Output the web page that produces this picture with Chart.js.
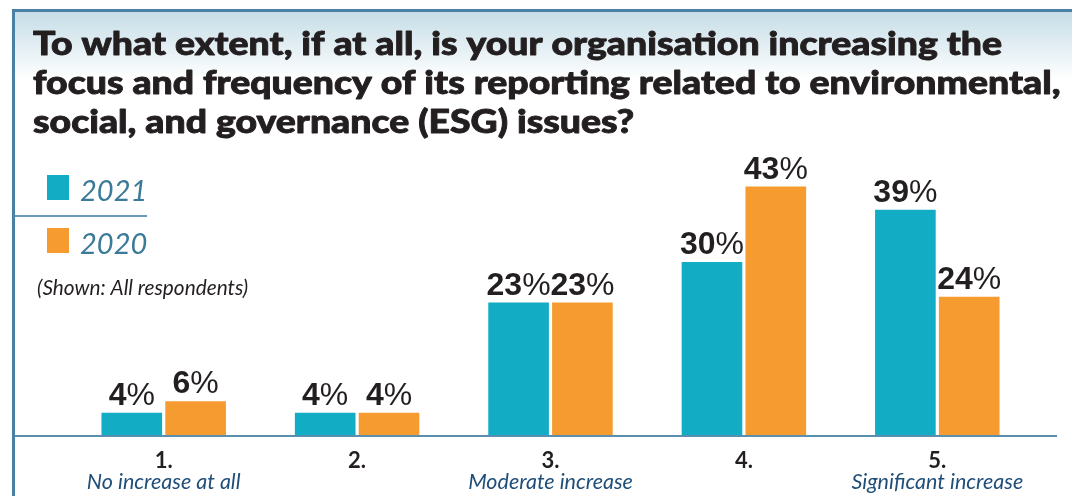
<!DOCTYPE html>
<html>
<head>
<meta charset="utf-8">
<script src="https://cdn.jsdelivr.net/npm/chart.js@4"></script>
<style>
  html, body { margin: 0; padding: 0; background: #fff; }
  #wrap { width: 1072px; height: 496px; position: relative; }
</style>
</head>
<body>
<div id="wrap"><canvas id="esg"></canvas></div>
<script>
// data
var categories = ['1.', '2.', '3.', '4.', '5.'];
var subLabels = ['No increase at all', '', 'Moderate increase', '', 'Significant increase'];
var values2021 = [4, 4, 23, 30, 39];
var values2020 = [6, 4, 23, 43, 24];
var seriesNames = ['2021', '2020'];

var titleLines = [
  'To what extent, if at all, is your organisation increasing the',
  'focus and frequency of its reporting related to environmental,',
  'social, and governance (ESG) issues?'
];
var noteText = '(Shown: All respondents)';

var TEAL = '#12acc4';
var ORANGE = '#f59b2f';
var FRAME = '#4a80a6';

// frame, gradient, title, legend
var decor = {
  id: 'decor',
  beforeDraw: function (chart) {
    var c = chart.ctx;
    c.save();
    var g = c.createLinearGradient(0, 12, 0, 80);
    g.addColorStop(0, '#c6dde7');
    g.addColorStop(1, '#ffffff');
    c.fillStyle = g;
    c.fillRect(14, 12, 1072, 70);
    c.fillStyle = FRAME;
    c.fillRect(12, 9, 1060, 3);
    c.fillRect(12, 9, 3, 487);

    // title, stretched and thickened a bit to match the heavier original face
    c.fillStyle = '#231f20';
    c.strokeStyle = '#231f20';
    c.lineWidth = 0.9;
    c.lineJoin = 'round';
    c.font = '900 33px Lato';
    c.textBaseline = 'alphabetic';
    var sx = 969 / c.measureText(titleLines[0]).width;
    var ty = [55, 94, 133];
    for (var i = 0; i < titleLines.length; i++) {
      c.save();
      c.translate(33, ty[i]);
      c.scale(sx, 1);
      c.fillText(titleLines[i], 0, 0);
      c.strokeText(titleLines[i], 0, 0);
      c.restore();
    }

    // legend
    var cols = [TEAL, ORANGE];
    var ly = [201, 254];
    for (var j = 0; j < seriesNames.length; j++) {
      c.fillStyle = cols[j];
      c.fillRect(47, ly[j] - 26, 22, 25);
      c.fillStyle = '#3b7a98';
      c.font = 'italic 29px Lato';
      c.fillText(seriesNames[j], 80, ly[j]);
    }
    c.fillStyle = '#6a9bb8';
    c.fillRect(15, 215, 132, 2);
    c.fillStyle = '#231f20';
    c.font = 'italic 20.8px Lato';
    c.fillText(noteText, 37, 295);
    c.restore();
  },
  afterDatasetsDraw: function (chart) {
    var c = chart.ctx;
    var area = chart.chartArea;
    c.save();
    // baseline
    c.fillStyle = '#5b8fb0';
    c.fillRect(15, area.bottom - 1, 1042, 2);

    // value labels
    c.fillStyle = '#231f20';
    c.textBaseline = 'alphabetic';
    chart.data.datasets.forEach(function (ds, di) {
      var meta = chart.getDatasetMeta(di);
      meta.data.forEach(function (bar, i) {
        var num = String(ds.data[i]);
        c.font = 'bold 32px "Liberation Sans"';
        var w1 = c.measureText(num).width;
        c.font = '32px "Liberation Sans"';
        var w2 = c.measureText('%').width;
        var x0 = bar.x - (w1 + w2) / 2;
        var y = bar.y - 8;
        c.font = 'bold 32px "Liberation Sans"';
        c.fillText(num, x0, y);
        c.font = '32px "Liberation Sans"';
        c.fillText('%', x0 + w1, y);
      });
    });

    // category labels
    var xs = chart.scales.x;
    c.textAlign = 'center';
    for (var k = 0; k < categories.length; k++) {
      var px = xs.getPixelForValue(k);
      c.fillStyle = '#231f20';
      c.font = 'bold 22px Lato';
      c.fillText(categories[k], px, 468);
      if (subLabels[k]) {
        c.fillStyle = '#1f4e79';
        c.font = 'italic 21.5px Lato';
        c.fillText(subLabels[k], px, 489);
      }
    }
    c.restore();
  }
};

new Chart(document.getElementById('esg'), {
  type: 'bar',
  data: {
    labels: categories,
    datasets: [
      { label: seriesNames[0], data: values2021, backgroundColor: TEAL },
      { label: seriesNames[1], data: values2020, backgroundColor: ORANGE }
    ]
  },
  options: {
    responsive: true,
    maintainAspectRatio: false,
    animation: false,
    layout: { padding: { left: 67, right: 38, top: 146, bottom: 60 } },
    categoryPercentage: 0.66,
    barPercentage: 0.95,
    plugins: {
      legend: { display: false },
      title: { display: false },
      tooltip: { enabled: false }
    },
    scales: {
      x: { display: false },
      y: { display: false, min: 0, max: 50 }
    }
  },
  plugins: [decor]
});
</script>
</body>
</html>
